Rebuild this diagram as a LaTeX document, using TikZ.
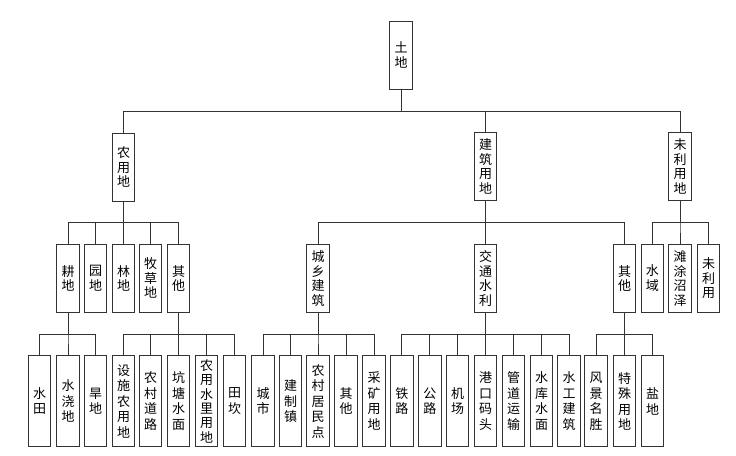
\documentclass[tikz,border=0pt]{standalone}
\usepackage{fontspec}
\setmainfont{Noto Sans CJK SC}
\begin{document}
\begin{tikzpicture}[x=1pt,y=-1pt,
  box/.style={draw=black!80, line width=0.7pt, inner sep=0pt, minimum width=22.4pt, align=center},
  tall/.style={box, minimum height=68pt, font=\fontsize{13}{14.5}\selectfont},
  leaf/.style={box, minimum height=91pt, font=\fontsize{13}{15.5}\selectfont},
  link/.style={draw=black!80, line width=0.7pt}]
\useasboundingbox (0,0) rectangle (736,455);
% level 0
\node[tall] (root) at (401,55) {土\\地};
% level 1
\node[tall] (n1) at (123.5,167) {农\\用\\地};
\node[tall] (n2) at (485.5,166.5) {建\\筑\\用\\地};
\node[tall] (n3) at (680,166.5) {未\\利\\用\\地};
% level 2
\node[tall] (a1) at (68,278.3) {耕\\地};
\node[tall] (a2) at (95.5,278.3) {园\\地};
\node[tall] (a3) at (123.5,278.3) {林\\地};
\node[tall] (a4) at (150.5,278.3) {牧\\草\\地};
\node[tall] (a5) at (178.5,278.3) {其\\他};
\node[tall] (b1) at (318,278.3) {城\\乡\\建\\筑};
\node[tall] (b2) at (485.5,278.3) {交\\通\\水\\利};
\node[tall] (b3) at (624.6,278.3) {其\\他};
\node[tall] (c1) at (652.3,278.3) {水\\域};
\node[tall] (c2) at (680,278.3) {滩\\涂\\沼\\泽};
\node[tall] (c3) at (708.5,278.3) {未\\利\\用};
% level 3
\node[leaf] (d1) at (39.5,401.2) {水\\田};
\node[leaf] (d2) at (68,401.2) {水\\浇\\地};
\node[leaf] (d3) at (95.5,401.2) {旱\\地};
\node[leaf] (e1) at (123.5,401.2) {设\\施\\农\\用\\地};
\node[leaf] (e2) at (150.5,401.2) {农\\村\\道\\路};
\node[leaf] (e3) at (178.5,401.2) {坑\\塘\\水\\面};
\node[leaf, font=\fontsize{13}{14.3}\selectfont] (e4) at (206.5,401.2) {农\\用\\水\\里\\用\\地};
\node[leaf] (e5) at (234.5,401.2) {田\\坎};
\node[leaf] (f1) at (263,401.2) {城\\市};
\node[leaf] (f2) at (290.5,401.2) {建\\制\\镇};
\node[leaf] (f3) at (318,401.2) {农\\村\\居\\民\\点};
\node[leaf] (f4) at (346,401.2) {其\\他};
\node[leaf] (f5) at (374,401.2) {采\\矿\\用\\地};
\node[leaf] (g1) at (401.8,401.2) {铁\\路};
\node[leaf] (g2) at (429.8,401.2) {公\\路};
\node[leaf] (g3) at (457.5,401.2) {机\\场};
\node[leaf] (g4) at (485.5,401.2) {港\\口\\码\\头};
\node[leaf] (g5) at (513.5,401.2) {管\\道\\运\\输};
\node[leaf] (g6) at (541.5,401.2) {水\\库\\水\\面};
\node[leaf] (g7) at (569,401.2) {水\\工\\建\\筑};
\node[leaf] (h1) at (596,401.2) {风\\景\\名\\胜};
\node[leaf] (h2) at (624.6,401.2) {特\\殊\\用\\地};
\node[leaf] (h3) at (652.5,401.2) {盐\\地};
% connectors
\foreach \c in {n1,n2,n3} \draw[link] (root.south) -- ++(0,22) -| (\c.north);
\foreach \c in {a1,a2,a3,a4,a5} \draw[link] (n1.south) -- ++(0,21.3) -| (\c.north);
\foreach \c in {b1,b2,b3} \draw[link] (n2.south) -- ++(0,21.8) -| (\c.north);
\foreach \c in {c1,c2,c3} \draw[link] (n3.south) -- ++(0,21.8) -| (\c.north);
\foreach \c in {d1,d2,d3} \draw[link] (a1.south) -- ++(0,21.4) -| (\c.north);
\foreach \c in {e1,e2,e3,e4,e5} \draw[link] (a5.south) -- ++(0,21.4) -| (\c.north);
\foreach \c in {f1,f2,f3,f4,f5} \draw[link] (b1.south) -- ++(0,21.4) -| (\c.north);
\foreach \c in {g1,g2,g3,g4,g5,g6,g7} \draw[link] (b2.south) -- ++(0,21.4) -| (\c.north);
\foreach \c in {h1,h2,h3} \draw[link] (b3.south) -- ++(0,21.4) -| (\c.north);
\end{tikzpicture}
\end{document}
